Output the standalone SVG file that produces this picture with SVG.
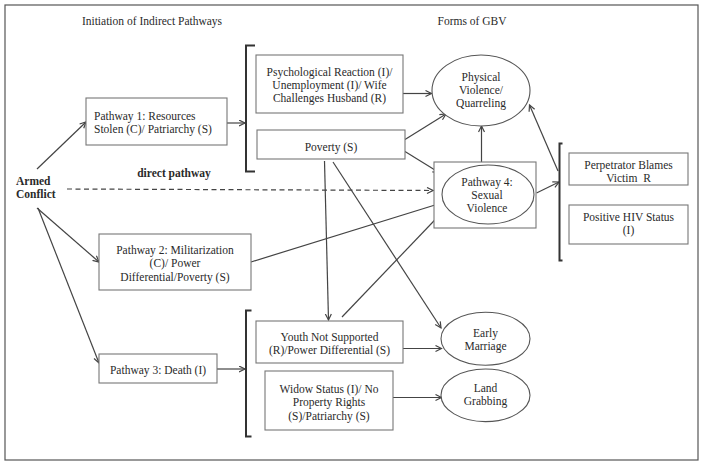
<svg xmlns="http://www.w3.org/2000/svg" width="704" height="466" viewBox="0 0 704 466">
<defs>
<marker id="ah" markerUnits="userSpaceOnUse" markerWidth="8" markerHeight="8" refX="6.5" refY="3.5" orient="auto">
<path d="M0.5,0.5 L6.5,3.5 L0.5,6.5" fill="none" stroke="#444" stroke-width="1.2"/>
</marker>
<style>
text{font-family:"Liberation Serif","Times New Roman",serif;font-size:11.5px;fill:#2a2a2a}
.c{text-anchor:middle}
.b{font-weight:bold}
.box{fill:#fff;stroke:#777;stroke-width:1.1}
.ell{fill:#fff;stroke:#555;stroke-width:1.1}
.br{fill:none;stroke:#333;stroke-width:2}
.ln{fill:none;stroke:#444;stroke-width:1.2}
.ar{fill:none;stroke:#444;stroke-width:1.2;marker-end:url(#ah)}
</style>
</defs>
<rect x="0" y="0" width="704" height="466" fill="#fff"/>
<rect x="5" y="5" width="693" height="455" fill="none" stroke="#555" stroke-width="1.2"/>

<text x="152" y="25" class="c">Initiation of Indirect Pathways</text>
<text x="472" y="25" class="c">Forms of GBV</text>

<g id="connectors">
<line class="ar" x1="37" y1="169" x2="86" y2="122"/>
<line class="ar" x1="37" y1="208" x2="99" y2="262"/>
<line class="ar" x1="38" y1="208" x2="99" y2="363"/>
<line class="ar" x1="67" y1="189" x2="433" y2="190.5" stroke-dasharray="5,3.5"/>
<line class="ar" x1="227" y1="123" x2="245" y2="123"/>
<line class="ar" x1="217" y1="369" x2="245" y2="369"/>
<line class="ar" x1="403" y1="93.5" x2="431.5" y2="93.5"/>
<line class="ar" x1="405" y1="139.5" x2="446" y2="114"/>
<line class="ar" x1="405" y1="151.5" x2="439" y2="172.5"/>
<line class="ar" x1="481.5" y1="162" x2="481.5" y2="126"/>
<line class="ar" x1="251" y1="262" x2="441.5" y2="203"/>
<line class="ar" x1="342" y1="317" x2="441.5" y2="213"/>
<line class="ar" x1="324.5" y1="161" x2="328.5" y2="320"/>
<line class="ar" x1="333" y1="162" x2="441" y2="328"/>
<line class="ar" x1="403" y1="348.5" x2="441.5" y2="348.5"/>
<line class="ar" x1="393" y1="397.5" x2="441.5" y2="397.5"/>
<line class="ar" x1="536.5" y1="193" x2="559" y2="182"/>
<line class="ar" x1="558" y1="171" x2="529.5" y2="105"/>
</g>

<g id="brackets">
<path class="br" d="M255,45.5 H246 V171.5 H255"/>
<path class="br" d="M251.5,310.5 H246 V436.5 H251.5"/>
<path class="br" d="M562.5,143.5 H559.5 V260.5 H562.5"/>
</g>

<g id="armed-conflict">
<text x="16" y="185" class="b">Armed</text>
<text x="16" y="198" class="b">Conflict</text>
</g>
<g id="direct-pathway-label">
<text x="174" y="177" class="c b">direct pathway</text>
</g>

<g id="pathway1">
<rect class="box" x="86" y="98" width="141" height="47"/>
<text x="94" y="120">Pathway 1: Resources</text>
<text x="94" y="133">Stolen (C)/ Patriarchy (S)</text>
</g>

<g id="pathway2">
<rect class="box" x="99" y="234" width="152" height="56"/>
<text x="175" y="254" class="c">Pathway 2: Militarization</text>
<text x="175" y="267.3" class="c">(C)/ Power</text>
<text x="175" y="280.6" class="c">Differential/Poverty (S)</text>
</g>

<g id="pathway3">
<rect class="box" x="99" y="354" width="118" height="29"/>
<text x="158" y="373.5" class="c">Pathway 3: Death (I)</text>
</g>

<g id="psych">
<rect class="box" x="256" y="55" width="147" height="58"/>
<text x="329.5" y="76" class="c">Psychological Reaction (I)/</text>
<text x="329.5" y="89" class="c">Unemployment (I)/ Wife</text>
<text x="329.5" y="102" class="c">Challenges Husband (R)</text>
</g>

<g id="poverty">
<rect class="box" x="257" y="130" width="148" height="29"/>
<text x="331" y="150.5" class="c">Poverty (S)</text>
</g>

<g id="youth">
<rect class="box" x="256" y="321" width="147" height="42"/>
<text x="329.5" y="340.5" class="c">Youth Not Supported</text>
<text x="329.5" y="353.8" class="c">(R)/Power Differential (S)</text>
</g>

<g id="widow">
<rect class="box" x="265" y="371" width="128" height="59"/>
<text x="329" y="393" class="c">Widow Status (I)/ No</text>
<text x="329" y="406.3" class="c">Property Rights</text>
<text x="329" y="419.6" class="c">(S)/Patriarchy (S)</text>
</g>

<g id="physical-violence">
<ellipse class="ell" cx="481" cy="90.5" rx="49" ry="35.5"/>
<text x="481" y="81" class="c">Physical</text>
<text x="481" y="94" class="c">Violence/</text>
<text x="481" y="107" class="c">Quarreling</text>
</g>

<g id="pathway4">
<rect class="box" x="434" y="162" width="102" height="66"/>
<ellipse class="ell" cx="488" cy="194.5" rx="46" ry="29.5"/>
<text x="487" y="185.5" class="c">Pathway 4:</text>
<text x="487" y="198.8" class="c">Sexual</text>
<text x="487" y="212.1" class="c">Violence</text>
</g>

<g id="early-marriage">
<ellipse class="ell" cx="485.5" cy="338.7" rx="44.5" ry="26.5"/>
<text x="485.5" y="336.5" class="c">Early</text>
<text x="485.5" y="349.8" class="c">Marriage</text>
</g>

<g id="land-grabbing">
<ellipse class="ell" cx="485.5" cy="395.3" rx="44.5" ry="26.3" stroke-width="1.8" stroke="#333"/>
<text x="485.5" y="392" class="c">Land</text>
<text x="485.5" y="405.3" class="c">Grabbing</text>
</g>

<g id="perpetrator">
<rect class="box" x="569" y="153" width="119" height="32"/>
<text x="628.5" y="169" class="c">Perpetrator Blames</text>
<text x="628.5" y="181.5" class="c">Victim&#160; R</text>
</g>

<g id="hiv">
<rect class="box" x="569" y="205" width="119" height="39"/>
<text x="628.5" y="221" class="c">Positive HIV Status</text>
<text x="628.5" y="234" class="c">(I)</text>
</g>
</svg>
